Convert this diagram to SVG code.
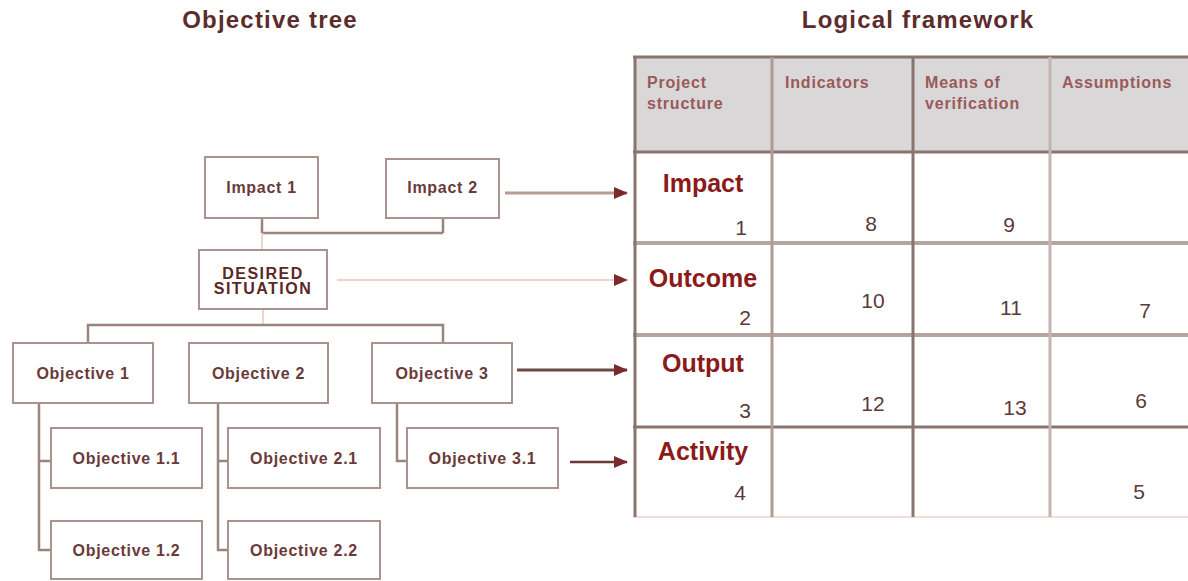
<svg xmlns="http://www.w3.org/2000/svg" width="1188" height="581" viewBox="0 0 1188 581">
  <style>
    .title { font-family: "Liberation Sans", Arial, sans-serif; font-size: 24px; font-weight: bold; fill: #5c2b2b; letter-spacing: 1.2px; text-anchor: middle; }
    .box { fill: #ffffff; stroke: #a8938f; stroke-width: 2; }
    .lbl { font-family: "Liberation Sans", Arial, sans-serif; font-size: 16px; font-weight: bold; fill: #6a3a3a; letter-spacing: 0.7px; text-anchor: middle; }
    .caps { letter-spacing: 1.5px; fill: #5a2828; }
    .link { fill: none; stroke: #9a8480; stroke-width: 2.5; }
    .faint { fill: none; stroke: #ecd6d2; stroke-width: 2; }
    .hdr { font-family: "Liberation Sans", Arial, sans-serif; font-size: 16px; font-weight: bold; fill: #9a5a5a; letter-spacing: 0.8px; }
    .row { font-family: "Liberation Sans", Arial, sans-serif; font-size: 25px; font-weight: bold; fill: #8b1a1a; text-anchor: middle; }
    .num { font-family: "Liberation Sans", Arial, sans-serif; font-size: 21px; fill: #5a3a3a; text-anchor: middle; }
    .gdark { stroke: #8a7470; stroke-width: 3; }
    .glight { stroke: #c6b4b0; stroke-width: 3; }
  </style>
  <defs>
    <marker id="head" viewBox="0 0 14 12" refX="13" refY="6" markerWidth="14" markerHeight="12" markerUnits="userSpaceOnUse" orient="auto">
      <path d="M0,0 L14,6 L0,12 Z" fill="#7a2a2a"/>
    </marker>
  </defs>

  <rect width="1188" height="581" fill="#ffffff"/>

  <!-- headings -->
  <text class="title" x="270" y="28">Objective tree</text>
  <text class="title" x="918" y="28">Logical framework</text>

  <!-- connectors -->
  <g id="connectors">
    <!-- impacts to desired situation -->
    <path class="link" d="M262,218 V233 M443,218 V233 M262,233 H443"/>
    <path class="faint" d="M262,233 V250"/>
    <!-- desired situation to objectives -->
    <path class="faint" d="M263,309 V325"/>
    <path class="link" d="M88,343 V325 H443 V343"/>
    <!-- objectives to sub-objectives -->
    <path class="link" d="M39,403 V550 H51 M39,461 H51"/>
    <path class="link" d="M218,403 V550 H228 M218,461 H228"/>
    <path class="link" d="M397,403 V461 H407"/>
    <!-- tree to framework -->
    <line x1="505" y1="193" x2="627" y2="193" stroke="#b89a96" stroke-width="3" marker-end="url(#head)"/>
    <line x1="337" y1="280" x2="627" y2="280" stroke="#ecd6d2" stroke-width="2" marker-end="url(#head)"/>
    <line x1="517" y1="370" x2="627" y2="370" stroke="#6e4a46" stroke-width="3" marker-end="url(#head)"/>
    <line x1="570" y1="462" x2="627" y2="462" stroke="#6a3a36" stroke-width="2.5" marker-end="url(#head)"/>
  </g>

  <!-- objective tree nodes -->
  <g id="impact-1">
    <rect class="box" x="205" y="157" width="113" height="61"/>
    <text class="lbl" x="261.5" y="193">Impact 1</text>
  </g>
  <g id="impact-2">
    <rect class="box" x="386" y="159" width="113" height="59"/>
    <text class="lbl" x="442.5" y="193">Impact 2</text>
  </g>
  <g id="desired-situation">
    <rect class="box" x="199" y="250" width="128" height="59"/>
    <text class="lbl caps" x="263" y="279">DESIRED</text>
    <text class="lbl caps" x="263" y="294">SITUATION</text>
  </g>
  <g id="objective-1">
    <rect class="box" x="13" y="343" width="140" height="60"/>
    <text class="lbl" x="83" y="379">Objective 1</text>
  </g>
  <g id="objective-2">
    <rect class="box" x="189" y="343" width="139" height="60"/>
    <text class="lbl" x="258.5" y="379">Objective 2</text>
  </g>
  <g id="objective-3">
    <rect class="box" x="372" y="343" width="140" height="60"/>
    <text class="lbl" x="442" y="379">Objective 3</text>
  </g>
  <g id="objective-1-1">
    <rect class="box" x="51" y="428" width="151" height="60"/>
    <text class="lbl" x="126.5" y="464">Objective 1.1</text>
  </g>
  <g id="objective-1-2">
    <rect class="box" x="51" y="521" width="151" height="58"/>
    <text class="lbl" x="126.5" y="556">Objective 1.2</text>
  </g>
  <g id="objective-2-1">
    <rect class="box" x="228" y="428" width="152" height="60"/>
    <text class="lbl" x="304" y="464">Objective 2.1</text>
  </g>
  <g id="objective-2-2">
    <rect class="box" x="228" y="521" width="152" height="58"/>
    <text class="lbl" x="304" y="556">Objective 2.2</text>
  </g>
  <g id="objective-3-1">
    <rect class="box" x="407" y="428" width="151" height="60"/>
    <text class="lbl" x="482.5" y="464">Objective 3.1</text>
  </g>

  <!-- logical framework matrix -->
  <g id="logframe">
    <rect x="635" y="57" width="560" height="95" fill="#d9d7d7"/>
    <!-- horizontal rules -->
    <line class="gdark" x1="633" y1="57" x2="1188" y2="57"/>
    <line class="gdark" x1="633" y1="152" x2="1188" y2="152"/>
    <line x1="633" y1="243" x2="1188" y2="243" stroke="#b5a5a1" stroke-width="4"/>
    <line x1="633" y1="335" x2="1188" y2="335" stroke="#b5a5a1" stroke-width="4"/>
    <line class="gdark" x1="633" y1="427" x2="1188" y2="427"/>
    <line x1="633" y1="517" x2="1188" y2="517" stroke="#f0dcd8" stroke-width="2"/>
    <!-- vertical rules -->
    <line class="gdark" x1="635" y1="57" x2="635" y2="517"/>
    <line x1="772" y1="57" x2="772" y2="517" stroke="#b09a94" stroke-width="3"/>
    <line class="gdark" x1="913" y1="57" x2="913" y2="517"/>
    <line class="glight" x1="1050" y1="57" x2="1050" y2="517"/>

    <!-- column headings -->
    <text class="hdr" x="647" y="88">Project</text>
    <text class="hdr" x="647" y="109">structure</text>
    <text class="hdr" x="785" y="88">Indicators</text>
    <text class="hdr" x="925" y="88">Means of</text>
    <text class="hdr" x="925" y="109">verification</text>
    <text class="hdr" x="1062" y="88">Assumptions</text>

    <!-- row headings -->
    <text class="row" x="703" y="192">Impact</text>
    <text class="row" x="703" y="287">Outcome</text>
    <text class="row" x="703" y="372">Output</text>
    <text class="row" x="703" y="460">Activity</text>

    <!-- sequence numbers -->
    <text class="num" x="741" y="235">1</text>
    <text class="num" x="745" y="325">2</text>
    <text class="num" x="745" y="418">3</text>
    <text class="num" x="740" y="500">4</text>
    <text class="num" x="871" y="231">8</text>
    <text class="num" x="1009" y="232">9</text>
    <text class="num" x="873" y="308">10</text>
    <text class="num" x="1011" y="315">11</text>
    <text class="num" x="1145" y="318">7</text>
    <text class="num" x="873" y="411">12</text>
    <text class="num" x="1015" y="415">13</text>
    <text class="num" x="1141" y="408">6</text>
    <text class="num" x="1139" y="499">5</text>
  </g>
</svg>
